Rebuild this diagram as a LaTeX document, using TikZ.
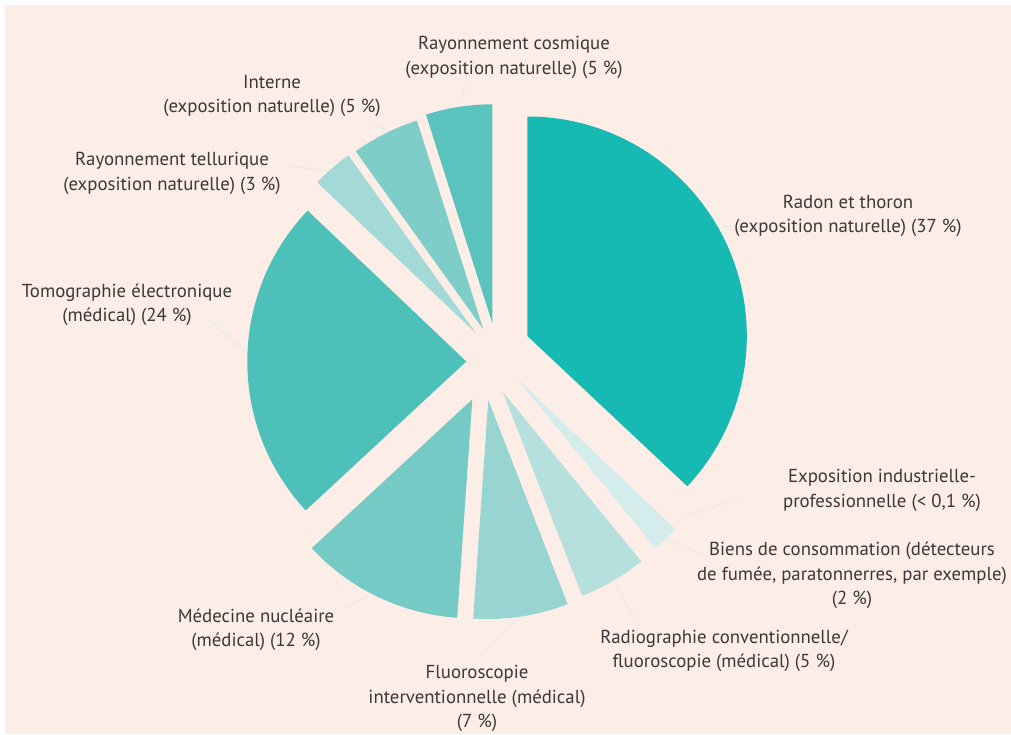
\documentclass[tikz,border=0pt]{standalone}
\usepackage{fontspec}
\setmainfont{PT Sans}
\usepackage{xcolor}
\usepackage{tikz}
\definecolor{bg}{HTML}{FCEEE6}
\definecolor{txt}{HTML}{3A3838}
\definecolor{lead}{HTML}{E4ECEB}
\definecolor{cradon}{HTML}{17B9B3}
\definecolor{ccons}{HTML}{D5ECEC}
\definecolor{cradio}{HTML}{B6E0DE}
\definecolor{cfluo}{HTML}{98D5D2}
\definecolor{cnucl}{HTML}{75CAC6}
\definecolor{ctomo}{HTML}{4EC0BA}
\definecolor{ctell}{HTML}{A3D9D6}
\definecolor{cint}{HTML}{7FCDC8}
\definecolor{ccos}{HTML}{5BC3BD}

\begin{document}
\begin{tikzpicture}[x=0.02cm,y=-0.02cm,semithick]
		\tikzstyle{lbl}=[align=center,text=txt,inner sep=0pt,font=\fontsize{10.7}{13.9}\selectfont]
		\tikzstyle{lead}=[draw=lead,line width=0.55pt]
		
		\useasboundingbox (0,0) rectangle (1011,734);
		\fill[white] (0,0) rectangle (1011,734);
		\fill[bg] (5,5) rectangle (1011,734);
		
		\fill[cradon] (527.3,336) -- ++(-90:219.5) arc[start angle=-90, end angle=43.2, radius=219.5] -- cycle;
		\fill[ccons]  (516.7,378.3) -- ++(43.56:219) arc[start angle=43.56, end angle=50.76, radius=219] -- cycle;
		\fill[cradio] (502.7,391.7) -- ++(50.76:219) arc[start angle=50.76, end angle=68.76, radius=219] -- cycle;
		\fill[cfluo]  (488.3,400) -- ++(68.76:219) arc[start angle=68.76, end angle=93.96, radius=219] -- cycle;
		\fill[cnucl]  (472.3,399.3) -- ++(93.96:219) arc[start angle=93.96, end angle=137.16, radius=219] -- cycle;
		\fill[ctomo]  (466.3,361.5) -- ++(137.16:219) arc[start angle=137.16, end angle=223.56, radius=219] -- cycle;
		\fill[ctell]  (476,333.3) -- ++(223.56:219) arc[start angle=223.56, end angle=234.36, radius=219] -- cycle;
		\fill[cint]   (483.3,329.3) -- ++(234.36:219) arc[start angle=234.36, end angle=252.36, radius=219] -- cycle;
		\fill[ccos]   (492.3,323.3) -- ++(252.36:219) arc[start angle=252.36, end angle=270, radius=219] -- cycle;
		
		\node[lbl] (lcos)   at (514,57.5)  {Rayonnement cosmique\\(exposition naturelle) (5 \%)};
		\node[lbl] (lint)   at (272,96)    {Interne\\(exposition naturelle) (5 \%)};
		\node[lbl] (ltell)  at (172,173.3) {Rayonnement tellurique\\(exposition naturelle) (3 \%)};
		\node[lbl] (lradon) at (848,216)   {Radon et thoron\\(exposition naturelle) (37 \%)};
		\node[lbl] (ltomo)  at (127,305)   {Tomographie électronique\\(médical) (24 \%)};
		\node[lbl] (lind)   at (882,490.5) {Exposition industrielle-\\professionnelle (< 0,1 \%)};
		\node[lbl] (lcons)  at (852,575.5) {Biens de consommation (détecteurs\\de fumée, paratonnerres, par exemple)\\(2 \%)};
		\node[lbl] (lradio) at (724,651)   {Radiographie conventionnelle/\\fluoroscopie (médical) (5 \%)};
		\node[lbl] (lfluo)  at (477,698.5) {Fluoroscopie\\interventionnelle (médical)\\(7 \%)};
		\node[lbl] (lnucl)  at (256,630)   {Médecine nucléaire\\(médical) (12 \%)};
		
		\coordinate (pcos)   at (460,103.3);
		\coordinate (qcos)   at (465.7,86);
		\coordinate (pint)   at (385,130);
		\coordinate (qint)   at (373.3,123.3);
		\coordinate (ptell)  at (328.3,170.7);
		\coordinate (qtell)  at (288.3,165.7);
		\coordinate (pradon) at (721.7,226.7);
		\coordinate (qradon) at (735,226);
		\coordinate (ptomo)  at (246.7,353.3);
		\coordinate (qtomo)  at (210,320);
		\coordinate (pind)   at (686.7,516);
		\coordinate (qind)   at (740,498);
		\coordinate (pcons)  at (666.7,540);
		\coordinate (qcons)  at (703,555);
		\coordinate (pradio) at (615,583);
		\coordinate (qradio) at (635,620);
		\coordinate (pfluo)  at (516.7,620);
		\coordinate (qfluo)  at (481.7,655);
		\coordinate (pnucl)  at (370,595);
		\coordinate (qnucl)  at (343,608);
		
		\path[lead] (pcos) edge (qcos);
		\path[lead] (pint) edge (qint);
		\path[lead] (ptell) edge (qtell);
		\path[lead] (pradon) edge (qradon);
		\path[lead] (ptomo) edge (qtomo);
		\path[lead] (pind) edge (qind);
		\path[lead] (pcons) edge (qcons);
		\path[lead] (pradio) edge (qradio);
		\path[lead] (pfluo) edge (qfluo);
		\path[lead] (pnucl) edge (qnucl);
\end{tikzpicture}
\end{document}
